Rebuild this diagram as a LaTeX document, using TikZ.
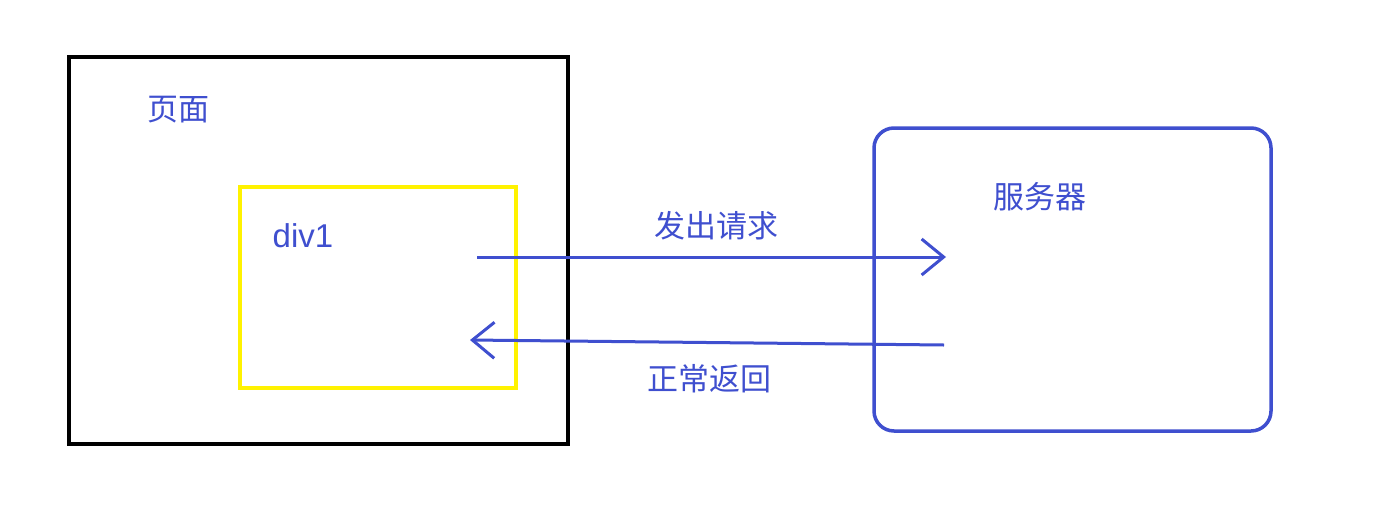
\documentclass[tikz,border=0pt]{standalone}
\usepackage{fontspec}
\newfontfamily\cjk{Noto Sans CJK SC}
\setmainfont{Liberation Sans}
\usetikzlibrary{arrows.meta}
\definecolor{bl}{HTML}{3F4FCF}
\definecolor{yl}{HTML}{FFF200}
\tikzset{lbl/.style={text=bl,font=\cjk\fontsize{31}{34}\selectfont,inner sep=0pt},
 conn/.style={draw=bl,line width=3pt,-{Straight Barb[length=22pt,width=36pt,line width=3pt]}}}
\begin{document}
\begin{tikzpicture}[x=1pt,y=-1pt]
\useasboundingbox[fill=white] (0,0) rectangle (1373,512);
\draw[line width=4pt] (69,57) rectangle (568,444);
\draw[yl,line width=4pt] (240,187) rectangle (516,388);
\draw[bl,line width=3.5pt,rounded corners=20pt] (874,128) rectangle (1271,431);
\node[lbl] (page) at (178,110) {页面};
\node[lbl,font=\fontsize{33}{36}\selectfont] (div) at (303,236) {div1};
\node[lbl] (srv) at (1040,197) {服务器};
\node[lbl] (req) at (716,226) {发出请求};
\node[lbl] (ret) at (709,379) {正常返回};
\coordinate (a1) at (477,257); \coordinate (a2) at (946,257);
\coordinate (b1) at (944,345); \coordinate (b2) at (470,340);
\draw[conn] (a1) -- (a2);
\draw[conn] (b1) -- (b2);
\end{tikzpicture}
\end{document}
